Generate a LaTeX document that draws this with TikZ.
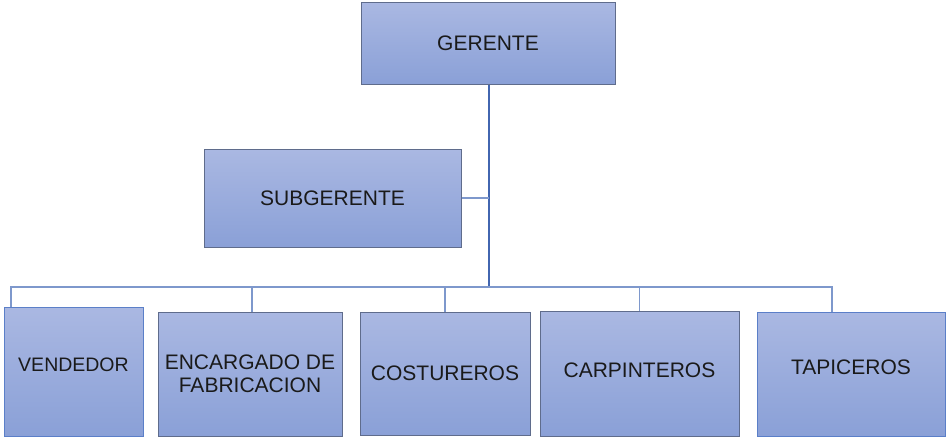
\documentclass[tikz,border=0pt]{standalone}
\usepackage{fontspec}
\setmainfont{Liberation Sans}
\definecolor{arriba}{HTML}{AAB8E2}
\definecolor{abajo}{HTML}{8AA0D7}
\definecolor{borde}{HTML}{5F6C8C}
\definecolor{bordeazul}{HTML}{5B7FC8}
\definecolor{tronco}{HTML}{4266B0}
\definecolor{rama}{HTML}{7E98CC}
\definecolor{letra}{HTML}{1A1A1A}
\begin{document}
\begin{tikzpicture}[x=1pt, y=-1pt]
            \tikzset{cargo/.style = {shape=rectangle, draw=borde, line width=1pt, top color=arriba, bottom color=abajo,
                                     inner sep=0pt, align=center, text=letra, font=\fontsize{21}{23}\selectfont}}
            \tikzset{linea/.style = {draw=rama, line width=1.2pt}}

            \useasboundingbox (0,0) rectangle (946,439);

            \node[cargo, minimum width=254, minimum height=82] (gerente) at (488,43) {GERENTE};
            \node[cargo, minimum width=257, minimum height=98] (subgerente) at (332.5,198) {SUBGERENTE};

            \node[cargo, draw=bordeazul, minimum width=139, minimum height=129,
                  font=\fontsize{19.5}{22}\selectfont] (vendedor) at (73.5,371.5) {\raisebox{13pt}{VENDEDOR}};
            \node[cargo, minimum width=184, minimum height=124] (encargado) at (250,374) {ENCARGADO DE\\FABRICACION};
            \node[cargo, minimum width=170, minimum height=123] (costureros) at (445,373.5) {COSTUREROS};
            \node[cargo, minimum width=199, minimum height=125] (carpinteros) at (639.5,373.5) {\raisebox{6pt}{CARPINTEROS}};
            \node[cargo, draw=bordeazul, minimum width=188, minimum height=124] (tapiceros) at (851,374) {\raisebox{14pt}{TAPICEROS}};

            \coordinate (bus) at (489,287);
            \coordinate (cruce) at (489,198);

            \draw[draw=tronco, line width=2pt] (gerente.south -| bus) -- (bus);
            \draw[linea] (subgerente.east) -- (cruce);

            \draw[linea] (vendedor.north -| 11,0) |- (bus);
            \draw[linea] (encargado.north -| 252,0) |- (bus);
            \draw[linea] (costureros.north) |- (bus);
            \draw[linea] (carpinteros.north) |- (bus);
            \draw[linea] (tapiceros.north -| 832,0) |- (bus);
        \end{tikzpicture}
\end{document}
